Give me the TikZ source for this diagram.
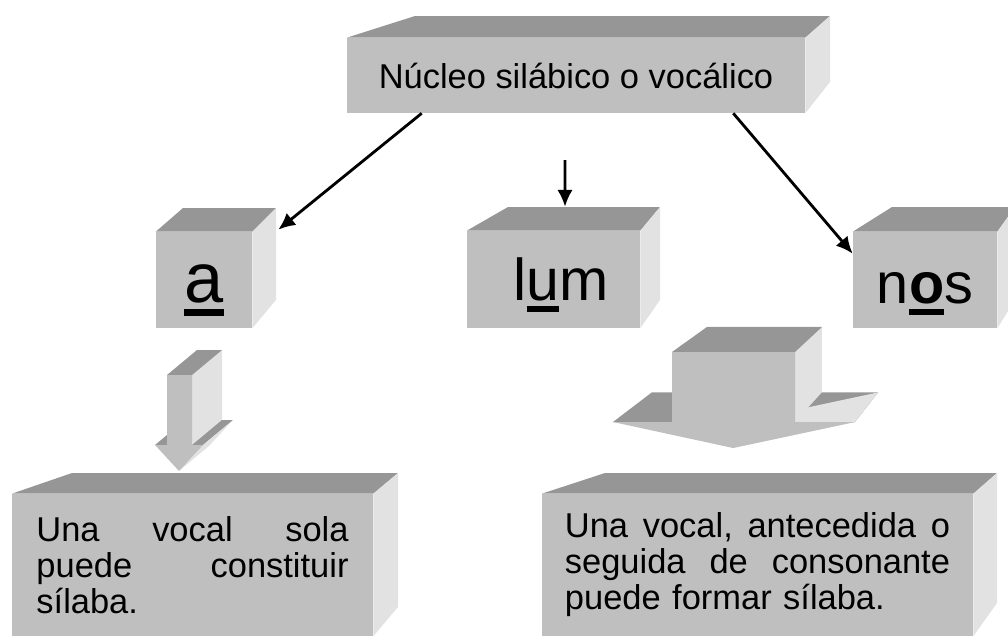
\documentclass[tikz,border=0pt]{standalone}
\usepackage{fontspec}
\setmainfont{Liberation Sans}
\usetikzlibrary{arrows.meta,calc}

\definecolor{frente}{gray}{0.75}
\definecolor{tapa}{gray}{0.59}
\definecolor{lado}{gray}{0.885}

\newcommand\nucleo[1]{\setbox0\hbox{#1}\rlap{\rule[-0.2em]{\wd0}{0.1em}}\box0}

% caras de arriba y de la derecha: nodo, x izq., y sup., x der., y inf. del fondo
\newcommand\caja[5]{%
	\fill[tapa] (#1.north west)--(#2,#3)--(#4,#3)--(#1.north east)--cycle;
	\fill[lado] (#1.north east)--(#4,#3)--(#4,#5)--(#1.south east)--cycle;
}

\begin{document}
\begin{tikzpicture}[x=0.025cm,y=-0.025cm,>={Latex[length=12pt,width=11pt]},
	cara/.style={fill=frente,inner sep=0pt},
	conector/.style={->,line width=2pt}]

\def\px{0.025cm}

\useasboundingbox (0,0) rectangle (1008,638);

\node[cara,minimum width=458*\px,minimum height=75*\px,
	font=\fontsize{24.5}{28}\selectfont] (titulo) at (576,75.5)
	{Núcleo silábico o vocálico};
\caja{titulo}{415}{16}{830}{82}

\node[cara,minimum width=96*\px,minimum height=96*\px,text height=44*\px,text depth=0pt,
	font=\fontsize{50}{58}\selectfont] (a) at (204,280) {\nucleo{a}};
\caja{a}{183}{208}{276}{300}

\node[cara,minimum width=173*\px,minimum height=97*\px,text height=41*\px,text depth=0pt,
	font=\fontsize{42}{48}\selectfont] (lum) at (553.5,279.5) {\hspace{0.38cm}l\nucleo{u}m};
\caja{lum}{508}{207}{660}{300}

\node[cara,minimum width=144*\px,minimum height=96*\px,text height=46*\px,text depth=0pt,
	font=\fontsize{41}{48}\selectfont] (nos) at (925,280) {n\nucleo{\textbf{o}}s};
\caja{nos}{892}{207}{1015}{300}

\node[cara,minimum width=361*\px,minimum height=142*\px,
	font=\fontsize{24.5}{25.6}\selectfont,text width=7.8cm,align=left] (sola) at (192.5,565)
	{\makebox[7.8cm][l]{Una\hfill vocal\hfill sola}\\
	\makebox[7.8cm][l]{puede\hfill constituir}\\
	sílaba.};
\caja{sola}{72}{473}{398}{607}

\node[cara,minimum width=431*\px,minimum height=142*\px,
	font=\fontsize{24.5}{25.6}\selectfont,text width=9.625cm,align=left] (formar) at (757.5,565)
	{\makebox[9.625cm][l]{Una\hfill vocal,\hfill antecedida\hfill o}\\
	\makebox[9.625cm][l]{seguida\hfill de\hfill consonante}\\
	puede formar sílaba.};
\caja{formar}{605}{473}{997}{603}

% flecha chica
\foreach \n/\p in {1/{167,375},2/{192,375},3/{192,445},4/{203,445},5/{179,471},6/{155,445},7/{167,445}}{
	\coordinate (f\n) at (\p);
	\coordinate (g\n) at ($(f\n)+(30,-25)$);
}
\fill[tapa] (f6)--(f7)--(g7)--(g6)--cycle;
\fill[lado] (f2)--(f3)--(g3)--(g2)--cycle;
\fill[tapa] (f1)--(f2)--(g2)--(g1)--cycle;
\fill[tapa] (f3)--(f4)--(g4)--(g3)--cycle;
\fill[lado] (f4)--(f5)--(g5)--(g4)--cycle;
\fill[frente] (f1)--(f2)--(f3)--(f4)--(f5)--(f6)--(f7)--cycle;

% flecha grande
\coordinate (fuga) at (1210,-33);
\foreach \n/\p in {1/{672,352},2/{795,352},3/{795,422},4/{855,422},5/{733,448},6/{613,422},7/{672,422}}{
	\coordinate (h\n) at (\p);
	\coordinate (k\n) at ($(h\n)!0.065!(fuga)$);
}
\fill[tapa] (h6)--(h7)--(k7)--(k6)--cycle;
\fill[lado] (h2)--(h3)--(k3)--(k2)--cycle;
\fill[tapa] (h1)--(h2)--(k2)--(k1)--cycle;
\fill[tapa] (h3)--(h4)--(k4)--(k3)--cycle;
\fill[lado] (h4)--(h5)--(k5)--(k4)--cycle;
\fill[frente] (h1)--(h2)--(h3)--(h4)--(h5)--(h6)--(h7)--cycle;

\coordinate (entrada) at (565,160);

\draw[conector] ($(titulo.south west)+(75,0)$) -- ($(a.north east)+(26,-2)$);
\draw[conector] ($(titulo.south east)+(-72,0)$) -- ($(nos.north west)+(0,22)$);
\draw[conector] (entrada) -- ($(lum.north)+(11.5,-24)$);

\end{tikzpicture}
\end{document}
